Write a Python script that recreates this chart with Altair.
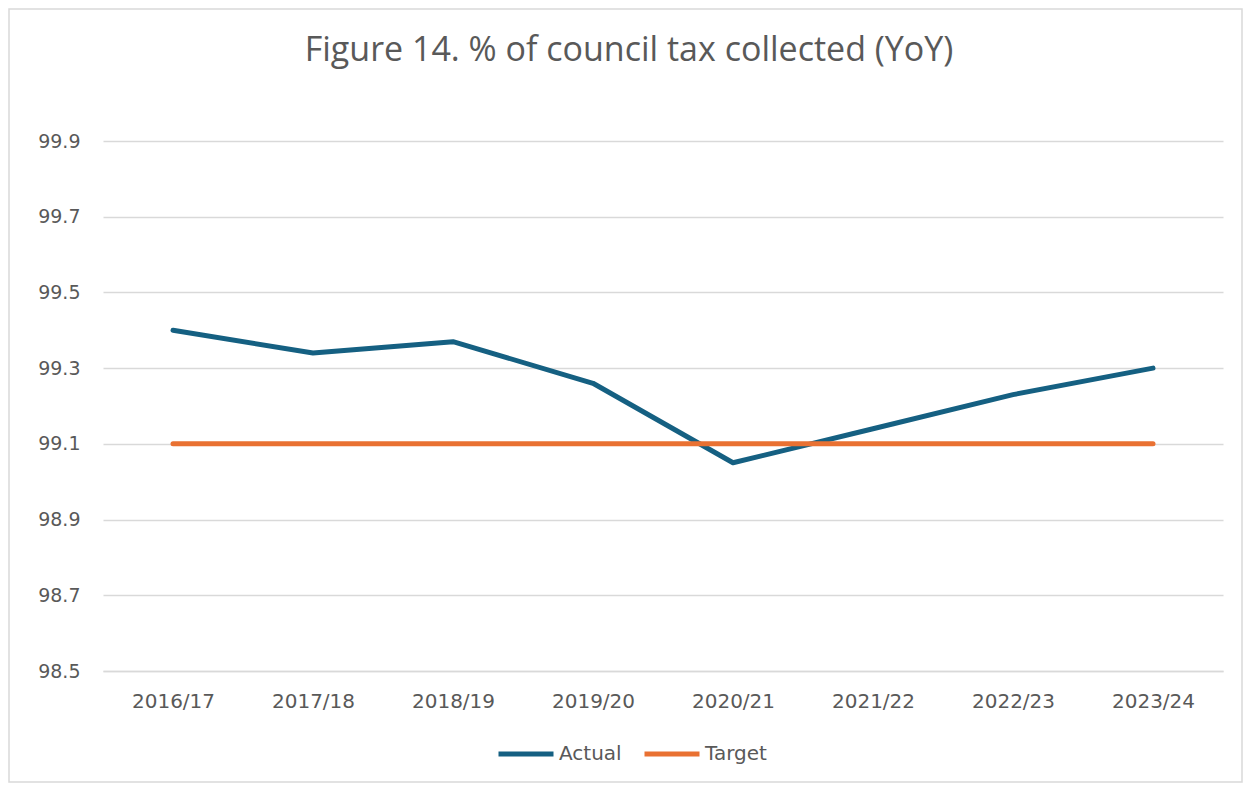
import altair as alt
import pandas as pd

years = ["2016/17", "2017/18", "2018/19", "2019/20", "2020/21", "2021/22", "2022/23", "2023/24"]
actual = [99.40, 99.34, 99.37, 99.26, 99.05, 99.14, 99.23, 99.30]
target = [99.10, 99.10, 99.10, 99.10, 99.10, 99.10, 99.10, 99.10]
series_names = ["Actual", "Target"]
series_colors = ["#156082", "#E97132"]
y_ticks = [98.5, 98.7, 98.9, 99.1, 99.3, 99.5, 99.7, 99.9]

rows = []
for name, vals in zip(series_names, [actual, target]):
    for i, (yr, v) in enumerate(zip(years, vals)):
        rows.append({"year": yr, "value": v, "series": name, "order": i})
df = pd.DataFrame(rows)

FONT = "DejaVu Sans"
TFONT = "Open Sans"
GREY = "#595959"

W, H = 1120, 530
PL, PT, PR, PB = 95, 133, 20, 112

frame = alt.Chart(pd.DataFrame({"a": [0]})).mark_rect(
    fill="transparent", stroke="#d9d9d9", strokeWidth=1.5
).encode(
    x=alt.value(-PL + 1), x2=alt.value(W + PR - 1),
    y=alt.value(-PT + 1), y2=alt.value(H + PB - 1),
)

lines = alt.Chart(df).mark_line(strokeWidth=5, strokeCap="round", strokeJoin="round").encode(
    x=alt.X("year:N", sort=years, scale=alt.Scale(paddingInner=0, paddingOuter=0.5),
            axis=alt.Axis(title=None, labelAngle=0, domain=True, domainColor="#d9d9d9",
                          domainWidth=1.5, ticks=False, grid=False,
                          labelFont=FONT, labelFontSize=20, labelColor=GREY, labelPadding=20)),
    y=alt.Y("value:Q", scale=alt.Scale(domain=[98.5, 99.9], nice=False, zero=False),
            axis=alt.Axis(title=None, values=y_ticks, format=".1f", domain=False, ticks=False,
                          grid=True, gridColor="#d9d9d9", gridWidth=1.5,
                          labelFont=FONT, labelFontSize=19, labelColor=GREY, labelPadding=23)),
    color=alt.Color("series:N", sort=series_names,
                    scale=alt.Scale(domain=series_names, range=series_colors),
                    legend=alt.Legend(title=None, orient="none", direction="horizontal",
                                      legendX=393, legendY=583, symbolType="stroke",
                                      symbolSize=3025, symbolStrokeWidth=5,
                                      labelFont=FONT, labelFontSize=20, labelColor=GREY,
                                      labelOffset=3, columnPadding=12, padding=0)),
    order="order:Q",
)

chart = alt.layer(frame, lines).properties(
    width=W, height=H,
    title=alt.TitleParams("Figure 14. % of council tax collected (YoY)", font=TFONT,
                          fontSize=34, fontWeight="normal", color=GREY, anchor="middle",
                          frame="group", baseline="alphabetic", dx=-34, offset=-87),
    autosize=alt.AutoSizeParams(type="none"),
    padding={"left": PL, "top": PT, "right": PR, "bottom": PB},
).configure_view(stroke=None)

chart.save("out.html", embed_options={"renderer": "svg", "actions": False})
